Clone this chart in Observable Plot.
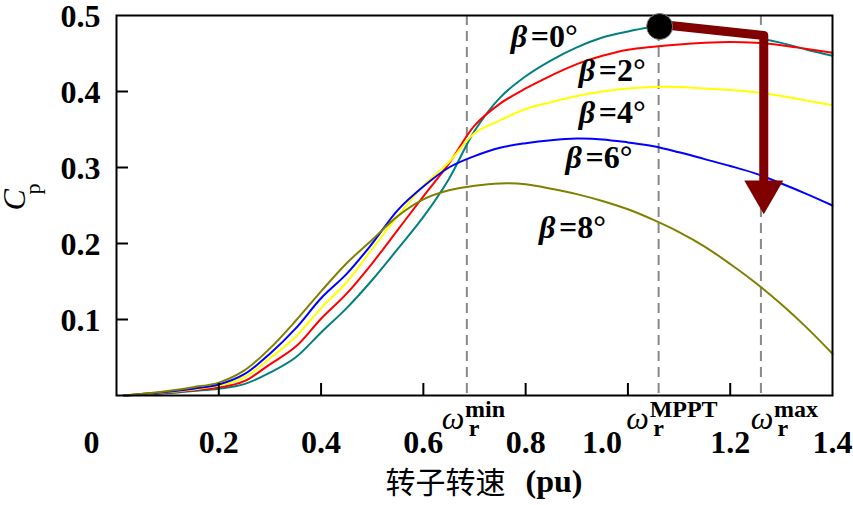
<!DOCTYPE html>
<html>
<head>
<meta charset="utf-8">
<script src="https://cdn.jsdelivr.net/npm/d3@7"></script>
<script src="https://cdn.jsdelivr.net/npm/@observablehq/plot@0.6"></script>
<style>
  html, body { margin: 0; padding: 0; background: #fff; }
  #chart { width: 853px; height: 505px; }
  #chart svg text { font-family: "Liberation Serif", "Noto Sans CJK SC", serif !important; }
</style>
</head>
<body>
<div id="chart"></div>
<script>
// ---- data ----
const speed = [0.015,0.1,0.15,0.2,0.25,0.3,0.35,0.4,0.45,0.5,0.55,0.6,0.65,0.7,0.75,0.8,0.85,0.9,0.95,1.0,1.05,1.1,1.15,1.2,1.25,1.3,1.35,1.4];
const cpBeta0 = [0.0,0.003,0.006,0.009,0.015,0.030,0.050,0.083,0.115,0.152,0.193,0.235,0.285,0.348,0.392,0.420,0.441,0.458,0.471,0.479,0.485,0.484,0.480,0.476,0.471,0.464,0.455,0.447];
const cpBeta2 = [0.0,0.004,0.007,0.0105,0.019,0.041,0.064,0.101,0.134,0.174,0.218,0.262,0.305,0.355,0.384,0.404,0.421,0.436,0.447,0.455,0.459,0.462,0.464,0.465,0.464,0.461,0.456,0.451];
const cpBeta4 = [0.0,0.0045,0.008,0.013,0.024,0.049,0.077,0.115,0.149,0.193,0.236,0.276,0.307,0.345,0.362,0.377,0.386,0.394,0.400,0.404,0.406,0.406,0.404,0.402,0.399,0.394,0.388,0.382];
const cpBeta6 = [0.0,0.005,0.009,0.0145,0.028,0.055,0.088,0.128,0.160,0.200,0.244,0.275,0.300,0.315,0.326,0.332,0.336,0.338,0.337,0.333,0.328,0.320,0.311,0.302,0.292,0.279,0.265,0.250];
const cpBeta8 = [0.0,0.006,0.011,0.017,0.033,0.062,0.098,0.137,0.174,0.205,0.236,0.258,0.270,0.276,0.279,0.278,0.272,0.265,0.256,0.245,0.231,0.215,0.196,0.173,0.148,0.120,0.089,0.055];
const betas = ["β=0°","β=2°","β=4°","β=6°","β=8°"];
const betaValues = ["=0°","=2°","=4°","=6°","=8°"];
const lineColors = ["#008080","#ff0000","#ffff00","#0000ff","#808000"];
// label anchors (text start x, baseline y) in data units
const betaLabelX = [0.771, 0.904, 0.904, 0.878, 0.826];
const betaLabelY = [0.458, 0.414, 0.359, 0.299, 0.207];
// speed limits (dashed lines)
const omegaLines = [0.685, 1.06, 1.26];
const omegaLabelX = [0.658, 1.019, 1.262];
const omegaSup = ["min", "MPPT", "max"];
// tick labels
const xTicks = [0.2, 0.4, 0.6, 0.8, 1.0, 1.2];
const xTickLabels = ["0.2","0.4","0.6","0.8","1.2","1.4"];
const xTickLabelPos = [0.2, 0.4, 0.6, 0.8, 1.2, 1.4];
const yTicks = [0.1, 0.2, 0.3, 0.4];
const yTickLabels = [0.1, 0.2, 0.3, 0.4, 0.5];
const xTitle = ["转子转速", "(pu)"];
// MPPT point and pitch-control arrow
const mpptPoint = [{x: 1.062, y: 0.4855}];
const arrowPath = [{x: 1.074, y: 0.4875}, {x: 1.2656, y: 0.4737}, {x: 1.2656, y: 0.283}];
const arrowHead = [{x: 1.2656, y: 0.268}];

const series = [cpBeta0, cpBeta2, cpBeta4, cpBeta6, cpBeta8];
const table = [];
series.forEach((vals, i) => vals.forEach((v, j) => table.push({speed: speed[j], cp: v, beta: betas[i]})));
const betaLabels = betas.map((b, i) => ({x: betaLabelX[i], y: betaLabelY[i], v: betaValues[i]}));

const serif = "Liberation Serif, Noto Sans CJK SC, serif";
const fs = 32;

const chart = Plot.plot({
  width: 853,
  height: 505,
  marginLeft: 116,
  marginRight: 21,
  marginTop: 15,
  marginBottom: 110,
  style: {fontFamily: serif, background: "#fff", color: "#000", overflow: "visible"},
  x: {domain: [0, 1.4]},
  y: {domain: [0, 0.5]},
  color: {domain: betas, range: lineColors},
  marks: [
    Plot.ruleX(omegaLines, {stroke: "#888", strokeWidth: 2, strokeDasharray: "10,6"}),
    Plot.line(table, {x: "speed", y: "cp", z: "beta", stroke: "beta", strokeWidth: 2, curve: "catmull-rom"}),
    Plot.axisX({ticks: xTicks, tickSize: -12, tickFormat: () => "", label: null, strokeWidth: 2}),
    Plot.axisY({ticks: yTicks, tickSize: -12, tickFormat: () => "", label: null, strokeWidth: 2}),
    Plot.frame({stroke: "#000", strokeWidth: 2}),
    // x tick labels
    Plot.text(xTickLabelPos, {x: d => d, text: (d, i) => xTickLabels[i], frameAnchor: "bottom", dy: 47, lineAnchor: "middle", fontSize: fs, fontWeight: "bold"}),
    Plot.text([0], {x: d => d, text: () => "0", frameAnchor: "bottom", dy: 47, dx: -25, lineAnchor: "middle", fontSize: fs, fontWeight: "bold"}),
    Plot.text([1.0], {x: d => d, text: () => "1.0", frameAnchor: "bottom", dy: 47, dx: -26, lineAnchor: "middle", fontSize: fs, fontWeight: "bold"}),
    // y tick labels
    Plot.text(yTickLabels, {y: d => d, text: d => d.toFixed(1), frameAnchor: "left", dx: -16, dy: 1, textAnchor: "end", lineAnchor: "middle", fontSize: fs, fontWeight: "bold"}),
    // axis titles
    Plot.text([xTitle[0]], {frameAnchor: "bottom", dy: 88, dx: 31, textAnchor: "end", lineAnchor: "middle", fontSize: 30}),
    Plot.text([xTitle[1]], {frameAnchor: "bottom", dy: 86, dx: 51, textAnchor: "start", lineAnchor: "middle", fontSize: fs, fontWeight: "bold"}),
    Plot.text(["C"], {frameAnchor: "left", dx: -102, dy: 5, rotate: -90, lineAnchor: "middle", fontSize: fs, fontStyle: "italic"}),
    Plot.text(["p"], {frameAnchor: "left", dx: -84, dy: -11, rotate: -90, lineAnchor: "middle", fontSize: 22}),
    // omega labels
    Plot.text(omegaLabelX, {x: d => d, text: () => "ω", frameAnchor: "bottom", dy: 33, lineAnchor: "bottom", fontSize: fs, fontStyle: "italic"}),
    Plot.text(omegaLabelX, {x: d => d, text: () => "r", frameAnchor: "bottom", dy: 40, dx: 21, lineAnchor: "bottom", fontSize: 24, fontWeight: "bold"}),
    Plot.text(omegaLabelX, {x: d => d, text: (d, i) => omegaSup[i], frameAnchor: "bottom", dy: 21, dx: 12, textAnchor: "start", lineAnchor: "bottom", fontSize: 24, fontWeight: "bold"}),
    // beta labels
    Plot.text(betaLabels, {x: "x", y: "y", text: () => "β", textAnchor: "start", lineAnchor: "bottom", fontSize: fs, fontStyle: "italic", fontWeight: "bold"}),
    Plot.text(betaLabels, {x: "x", y: "y", text: "v", dx: 20, textAnchor: "start", lineAnchor: "bottom", fontSize: fs, fontWeight: "bold"}),
    // arrow and MPPT point
    Plot.line(arrowPath, {x: "x", y: "y", stroke: "#800000", strokeWidth: 9, strokeLinejoin: "round"}),
    Plot.dot(arrowHead, {x: "x", y: "y", symbol: "triangle", rotate: 180, r: 14.5, fill: "#800000", stroke: "none"}),
    Plot.dot(mpptPoint, {x: "x", y: "y", r: 13, fill: "#000", stroke: "#777", strokeWidth: 1})
  ]
});
document.getElementById("chart").appendChild(chart);
</script>
</body>
</html>
